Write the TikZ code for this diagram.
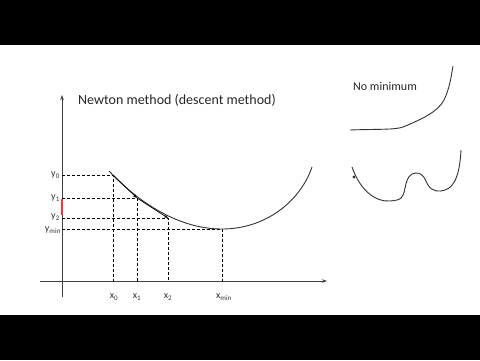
\documentclass[tikz,border=0pt]{standalone}
\usepackage{fontspec}
\setmainfont{Carlito}
\usetikzlibrary{arrows.meta}
\begin{document}
\begin{tikzpicture}[x=1pt,y=-1pt,
  curve/.style={line width=0.9pt,black!80},
  guide/.style={densely dashed,line width=0.7pt,black},
  axisline/.style={line width=0.8pt,black!75,-{Stealth[length=5pt,width=3.5pt]}},
  stepline/.style={line width=0.7pt,black,-{Stealth[length=4pt,width=3pt]}},
  lab/.style={font=\fontsize{10}{11}\selectfont,inner sep=1pt,text=black!80},
  title/.style={font=\fontsize{14}{16}\selectfont,inner sep=0pt,anchor=west,text=black!85}]
\useasboundingbox (0,0) rectangle (480,360);
\fill[white] (0,0) rectangle (480,360);
\fill[black] (0,0) rectangle (480,45);
\fill[black] (0,315) rectangle (480,360);

% axes
\coordinate (ybot) at (62,297);
\coordinate (ytop) at (62,95);
\coordinate (xl) at (40,281);
\coordinate (xr) at (327,281);
\draw[axisline] (ybot) -- (ytop);
\draw[axisline] (xl) -- (xr);

% red segment on y axis
\coordinate (r1) at (62,199);
\coordinate (r2) at (62,215);
\draw[red!80,line width=1.2pt] (r1) -- (r2);

% curve points
\coordinate (c0) at (109,171);
\coordinate (p0) at (113,175);
\coordinate (p1) at (137,198);
\coordinate (p2) at (168,218);
\coordinate (pm) at (222,229);
\coordinate (cend) at (312,167);

% axis foot points
\coordinate (a0) at (62,175);
\coordinate (a1) at (62,198);
\coordinate (a2) at (62,218);
\coordinate (am) at (62,229);
\coordinate (b0) at (113,281);
\coordinate (b1) at (137,281);
\coordinate (b2) at (168,281);
\coordinate (bm) at (222,281);

\draw[guide] (a0) -- (p0) -- (b0);
\draw[guide] (a1) -- (p1) -- (b1);
\draw[guide] (a2) -- (p2) -- (b2);
\draw[guide] (am) -- (pm) -- (bm);

\draw[curve] (c0) .. controls (140,204) and (180,229) .. (pm)
  .. controls (265,229) and (300,202) .. (cend);

\draw[stepline] (p0) -- (p1);
\draw[stepline] (p1) -- (p2);

% labels
\node[lab,anchor=east] (ly0) at (61,175) {y\textsubscript{0}};
\node[lab,anchor=east] (ly1) at (61,198) {y\textsubscript{1}};
\node[lab,anchor=east] (ly2) at (61,217) {y\textsubscript{2}};
\node[lab,anchor=east] (lym) at (62,230) {y\textsubscript{min}};
\node[lab] (lx0) at (114,297) {x\textsubscript{0}};
\node[lab] (lx1) at (137,297) {x\textsubscript{1}};
\node[lab] (lx2) at (168,297) {x\textsubscript{2}};
\node[lab] (lxm) at (224,297) {x\textsubscript{min}};

\node[title] (ttl) at (78,100) {Newton method (descent method)};
\node[title,font=\fontsize{12}{14}\selectfont] (nomin) at (353,86) {No minimum};

% no-minimum curve
\coordinate (n0) at (350,130);
\coordinate (n1) at (403,127);
\coordinate (n2) at (453,66);
\draw[curve] (n0) .. controls (375,129) and (395,130) .. (n1)
  .. controls (420,120) and (438,112) .. (444,100)
  .. controls (449,90) and (451,78) .. (n2);

% two-minimum curve
\coordinate (m0) at (352,167);
\coordinate (mdot) at (354,177);
\draw[curve] (m0) .. controls (360,190) and (375,202) .. (390,201)
  .. controls (402,200) and (403,198) .. (405,188)
  .. controls (407,178) and (410,173) .. (416,173)
  .. controls (424,173) and (425,180) .. (428,185)
  .. controls (432,192) and (440,192) .. (445,190)
  .. controls (456,187) and (460,170) .. (461,150);
\fill[black!80] (mdot) circle (1.6pt);
\end{tikzpicture}
\end{document}
